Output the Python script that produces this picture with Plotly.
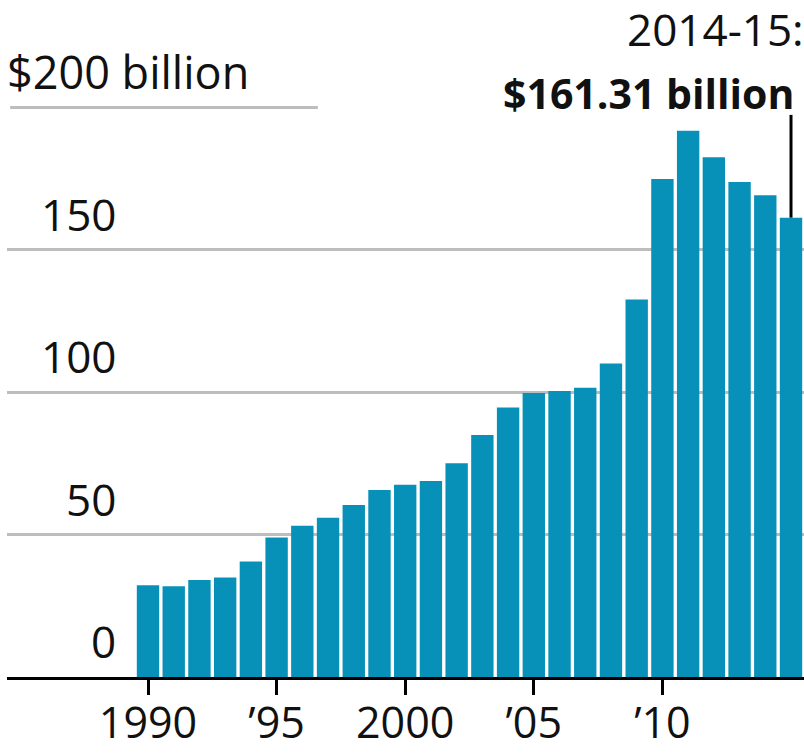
import plotly.graph_objects as go

years = list(range(1990, 2016))
values = [32.2, 31.9, 34.1, 34.9, 40.6, 49.0, 53.1, 55.9, 60.4, 65.7,
          67.5, 68.8, 75.1, 85.0, 94.6, 99.7, 100.4, 101.6, 110.1, 132.6,
          174.9, 191.8, 182.5, 173.8, 169.2, 161.31]
tick_vals = [1990, 1995, 2000, 2005, 2010]
tick_text = ["1990", "\u201995", "2000", "\u201905", "\u201910"]
y_grid = [0, 50, 100, 150, 200]
y_labels = ["0", "50", "100", "150", "$200 billion"]
callout_label = "2014-15:"
callout_value = "$161.31 billion"

FONT = "Open Sans, Liberation Sans, sans-serif"
BAR = "#0891b8"
INK = "#111111"
GRID = "#bdbdbd"

fig = go.Figure()
fig.add_trace(go.Bar(x=years, y=values, marker=dict(color=BAR, line=dict(width=0)),
                     hoverinfo="x+y"))

annotations = []
for v, t in zip(y_grid, y_labels):
    if v == y_grid[-1]:
        annotations.append(dict(x=0.0, xref="paper", xanchor="left", xshift=-2, y=v, yref="y",
                                yanchor="bottom", yshift=3, text=t, showarrow=False,
                                font=dict(family=FONT, size=45, color=INK)))
    else:
        annotations.append(dict(x=0.139, xref="paper", xanchor="right", y=v, yref="y",
                                yanchor="bottom", yshift=4, text=t, showarrow=False,
                                font=dict(family=FONT, size=44, color=INK)))

annotations.append(dict(x=1.0, xref="paper", xanchor="right", xshift=-8, y=y_grid[-1], yref="y",
                        yanchor="middle", yshift=14, align="right",
                        text="<b>" + callout_value + "</b>",
                        showarrow=False,
                        font=dict(family=FONT, size=41, color=INK)))
annotations.append(dict(x=1.0, xref="paper", xanchor="right", xshift=2, y=y_grid[-1], yref="y",
                        yanchor="middle", yshift=78, align="right",
                        text=callout_label, showarrow=False,
                        font=dict(family=FONT, size=44, color=INK)))

shapes = [
    # top gridline stops short of the callout text
    dict(type="line", xref="paper", yref="y", x0=0.004, x1=0.39,
         y0=y_grid[-1], y1=y_grid[-1], line=dict(color=GRID, width=3), layer="below"),
    # leader line from the callout to the last bar
    dict(type="line", xref="x", yref="y", x0=years[-1], x1=years[-1],
         y0=values[-1], y1=197.4, line=dict(color="black", width=3)),
]

fig.update_layout(
    width=804, height=753,
    margin=dict(l=7, r=0, t=40, b=76, autoexpand=False),
    paper_bgcolor="white", plot_bgcolor="white",
    bargap=0.13,
    showlegend=False,
    annotations=annotations,
    shapes=shapes,
    xaxis=dict(range=[1984.518, 2015.505], tickmode="array", tickvals=tick_vals,
               ticktext=tick_text, ticks="outside", ticklen=15, tickwidth=3,
               tickcolor="black", showline=True, linecolor="black", linewidth=3,
               showgrid=False, zeroline=False, automargin=False,
               ticklabelstandoff=-9,
               tickfont=dict(family=FONT, size=43, color=INK)),
    yaxis=dict(range=[0, 223.7], tickmode="array", tickvals=y_grid[:-1],
               showticklabels=False, showgrid=True, gridcolor=GRID,
               gridwidth=3, zeroline=False, showline=False, automargin=False),
)

fig.write_html("out.html", config={"displayModeBar": False},
               post_script="document.body.style.margin='0';document.body.style.padding='0';"
                           "document.documentElement.style.overflow='hidden';")
